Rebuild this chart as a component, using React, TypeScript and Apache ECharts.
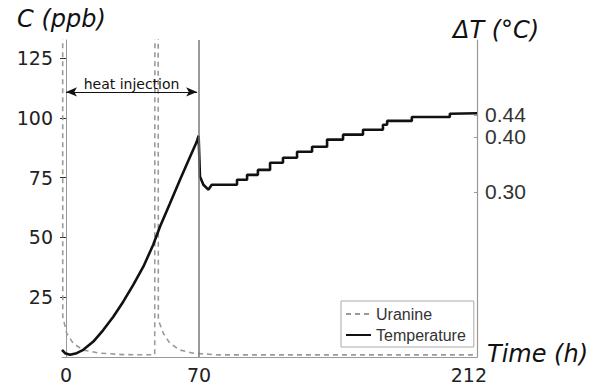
import React, { useEffect, useRef } from "react";
import * as echarts from "echarts";

// Time axis labels
const timeTicks = [0, 70, 212];
const concTicks = [25, 50, 75, 100, 125];
const dtTicks = [0.3, 0.4, 0.44];

// Uranine (ppb) – dashed
const uranineTime = [-1.75, -1.7, 0.4, 3.8, 9.1, 17.9, 30, 46.7, 46.8, 48.5, 48.6, 51.2, 54.7, 60, 66.8, 80, 216.3];
const uranineValue = [150, 16.8, 9.9, 5.7, 2.9, 1.6, 1.0, 0.9, 150, 150, 15.5, 9.9, 5.7, 2.9, 1.6, 0.9, 0.9];

// Temperature (°C) – heating and first drop
const riseTime = [-2.1, -0.5, 2.1, 5.6, 9.1, 14.4, 19.6, 24.9, 30.2, 35.4, 40.7, 45.9, 49.5, 54.7, 60.0, 65.3, 68.8, 69.8, 70.5, 72.3, 74.9];
const riseDT = [0.013, 0.007, 0.004, 0.007, 0.013, 0.028, 0.049, 0.073, 0.101, 0.131, 0.164, 0.204, 0.237, 0.279, 0.322, 0.364, 0.391, 0.402, 0.328, 0.313, 0.304];
// Temperature – recovery staircase (time of step, level after step)
const stepTime = [76.7, 90.0, 95.3, 101, 107.4, 114.2, 121.6, 129.5, 137.4, 145.8, 156.3, 166.8, 169, 182, 202];
const stepDT = [0.313, 0.322, 0.331, 0.34, 0.353, 0.362, 0.373, 0.382, 0.395, 0.404, 0.413, 0.422, 0.429, 0.436, 0.442];
const endTime = 216.3;
const endDT = 0.443;

export default function App() {
  const ref = useRef<HTMLDivElement>(null);
  useEffect(() => {
    if (!ref.current) return;
    const chart = echarts.init(ref.current, null, { renderer: "svg" });

    const uranineData = uranineTime.map((t, i) => [t, uranineValue[i]]);
    const tempData: number[][] = riseTime.map((t, i) => [t, riseDT[i]]);
    stepTime.forEach((t, i) => {
      if (i > 0) tempData.push([t, stepDT[i - 1]]);
      tempData.push([t, stepDT[i]]);
    });
    tempData.push([endTime, endDT]);

    const option: any = {
      animation: false,
      textStyle: { fontFamily: "DejaVu Sans" },
      grid: { left: 62, right: 114, top: 40, bottom: 32 },
      xAxis: {
        type: "value",
        min: -2.1,
        max: 216.3,
        axisLine: { show: true, onZero: false, lineStyle: { color: "#999", width: 1 } },
        axisTick: { show: false },
        splitLine: { show: false },
        axisLabel: {
          customValues: timeTicks,
          fontFamily: "DejaVu Sans",
          fontSize: 19,
          color: "#222",
          margin: 8,
        },
      },
      yAxis: [
        {
          type: "value",
          min: 0,
          max: 132.5,
          position: "left",
          axisLine: { show: true, lineStyle: { color: "#999", width: 1 } },
          axisTick: { show: true, length: 6, customValues: concTicks, lineStyle: { color: "#333" } },
          axisLabel: {
            customValues: concTicks,
            fontFamily: "DejaVu Sans",
            fontSize: 19,
            color: "#222",
            margin: 9,
          },
          splitLine: { show: false },
        },
        {
          type: "value",
          min: 0,
          max: 0.576,
          position: "right",
          axisLine: { show: true, lineStyle: { color: "#999", width: 1.2 } },
          axisTick: { show: true, inside: true, length: 3, customValues: dtTicks, lineStyle: { color: "#999" } },
          axisLabel: {
            customValues: dtTicks,
            formatter: (v: number) => v.toFixed(2),
            fontFamily: "Liberation Sans",
            fontSize: 21,
            color: "#333",
            margin: 8,
          },
          splitLine: { show: false },
        },
      ],
      legend: {
        data: ["Uranine", "Temperature"],
        orient: "vertical",
        left: 341,
        top: 301,
        itemWidth: 25,
        itemHeight: 12,
        itemGap: 5,
        padding: [5, 8, 4, 4],
        borderColor: "#aaa",
        borderWidth: 1,
        backgroundColor: "#fff",
        itemStyle: { opacity: 0 },
        textStyle: { fontFamily: "Liberation Sans", fontSize: 16, color: "#333" },
      },
      graphic: [
        {
          type: "text",
          x: 17,
          y: 19,
          style: {
            text: "C (ppb)",
            fontFamily: "DejaVu Sans",
            fontStyle: "italic",
            fontSize: 24,
            fill: "#111",
            verticalAlign: "middle",
          },
        },
        {
          type: "text",
          x: 453,
          y: 30,
          style: {
            text: "ΔT (°C)",
            fontFamily: "DejaVu Sans",
            fontStyle: "italic",
            fontSize: 24,
            fill: "#111",
            verticalAlign: "middle",
          },
        },
        {
          type: "text",
          x: 487,
          y: 354,
          style: {
            text: "Time (h)",
            fontFamily: "DejaVu Sans",
            fontStyle: "italic",
            fontSize: 24,
            fill: "#111",
            verticalAlign: "middle",
          },
        },
      ],
      series: [
        {
          name: "Uranine",
          type: "line",
          yAxisIndex: 0,
          data: uranineData,
          symbol: "none",
          showSymbol: false,
          clip: true,
          lineStyle: { color: "#9a9a9a", width: 1.6, type: [5, 4] },
          itemStyle: { color: "#9a9a9a" },
          z: 2,
          markLine: {
            silent: true,
            symbol: ["none", "none"],
            lineStyle: { color: "#111", width: 1.2, type: "solid" },
            label: {
              show: true,
              formatter: "heat injection",
              position: "insideMiddleTop",
              distance: 1,
              fontFamily: "DejaVu Sans",
              fontSize: 14,
              color: "#111",
            },
            data: [
              [
                { coord: [0, 110.8], symbol: "arrow", symbolSize: [7, 11] },
                { coord: [69, 110.8], symbol: "arrow", symbolSize: [7, 11] },
              ],
            ],
          },
        },
        {
          name: "Temperature",
          type: "line",
          yAxisIndex: 1,
          data: tempData,
          symbol: "none",
          showSymbol: false,
          clip: true,
          lineStyle: { color: "#111", width: 2.6 },
          itemStyle: { color: "#111" },
          z: 3,
          markLine: {
            silent: true,
            symbol: ["none", "none"],
            label: { show: false },
            lineStyle: { color: "#777", width: 1.5, type: "solid" },
            data: [{ xAxis: 70 }],
          },
        },
      ],
    };
    chart.setOption(option);
    return () => chart.dispose();
  }, []);
  return (
    <div
      ref={ref}
      style={{ position: "fixed", left: 0, top: 0, width: 591, height: 389, background: "#fff" }}
    />
  );
}
